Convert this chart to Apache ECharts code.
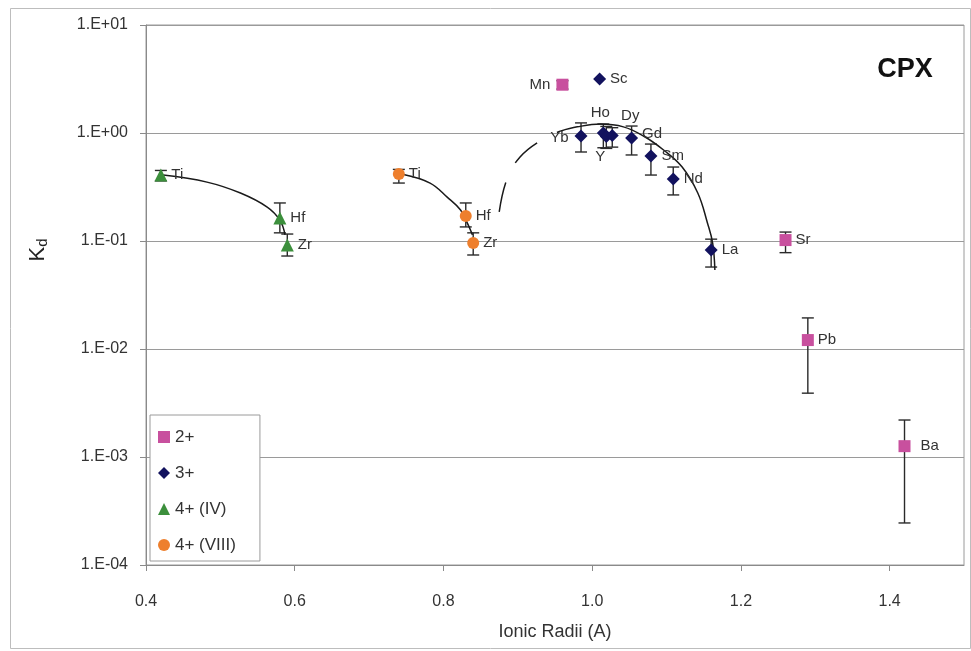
<!DOCTYPE html>
<html>
<head>
<meta charset="utf-8">
<script src="https://cdn.jsdelivr.net/npm/echarts@6/dist/echarts.min.js"></script>
<style>html,body{margin:0;padding:0;background:#fff}#c{width:971px;height:651px}</style>
</head>
<body>
<div id="c"></div>
<script>
// ---- data ----
const xTicks = [0.4, 0.6, 0.8, 1.0, 1.2, 1.4];

const names2 = ['Mn', 'Sr', 'Pb', 'Ba'];
const radii2 = [0.96, 1.26, 1.29, 1.42];
const kd2 = [2.8, 0.102, 0.0121, 0.00126];
const lo2 = [2.55, 0.078, 0.0039, 0.000245];
const hi2 = [3.05, 0.121, 0.0194, 0.0022];

const names3 = ['Sc', 'Yb', 'Ho', 'Y', 'Dy', 'Gd', 'Sm', 'Nd', 'La'];
const radii3 = [1.01, 0.985, 1.015, 1.019, 1.027, 1.053, 1.079, 1.109, 1.16];
const kd3 = [3.16, 0.94, 1.0, 0.93, 0.95, 0.90, 0.613, 0.375, 0.0826];
const lo3 = [null, 0.667, 0.73, 0.72, 0.74, 0.626, 0.408, 0.267, 0.0574];
const hi3 = [null, 1.24, 1.21, 1.15, 1.12, 1.16, 0.79, 0.484, 0.104];

const namesIV = ['Ti', 'Hf', 'Zr'];
const radiiIV = [0.42, 0.58, 0.59];
const kdIV = [0.408, 0.163, 0.092];
const loIV = [0.36, 0.119, 0.0726];
const hiIV = [0.45, 0.225, 0.116];

const namesVIII = ['Ti', 'Hf', 'Zr'];
const radiiVIII = [0.74, 0.83, 0.84];
const kdVIII = [0.417, 0.17, 0.096];
const loVIII = [0.344, 0.135, 0.0742];
const hiVIII = [0.46, 0.225, 0.119];

// fitted lattice-strain curves
const fitIVx = [0.423, 0.482, 0.527, 0.563, 0.580, 0.587];
const fitIVy = [0.408, 0.351, 0.278, 0.206, 0.156, 0.114];
const fitVIIIx = [0.745, 0.782, 0.805, 0.823, 0.832, 0.839];
const fitVIIIy = [0.415, 0.344, 0.255, 0.194, 0.147, 0.114];
const fit3DashX = [0.875, 0.885, 0.903, 0.932, 0.957];
const fit3DashY = [0.186, 0.367, 0.600, 0.862, 1.04];
const fit3x = [0.957, 0.980, 1.011, 1.042, 1.069, 1.096, 1.121, 1.142, 1.155, 1.162, 1.165];
const fit3y = [1.04, 1.14, 1.21, 1.14, 0.938, 0.696, 0.484, 0.278, 0.147, 0.0958, 0.0539];

const seriesNames = ['2+', '3+', '4+ (IV)', '4+ (VIII)'];

// ---- styles ----
const FONT = 'Liberation Sans, Arial, sans-serif';
const colors = ['#C8509E', '#12125E', '#3C8F3C', '#EE7F2D'];
const labelStyle = {
  Mn: { position: 'left', offset: [-2, 0] },
  Yb: { position: 'left', offset: [-2, 2] },
  Ho: { position: 'top', offset: [-3, -2] },
  Y: { position: 'bottom', offset: [-6, 2] },
  Dy: { position: 'top', offset: [18, -2] },
  Gd: { position: 'right', offset: [0, -4] },
  Ba: { position: 'right', offset: [6, 0] }
};

function pts(xs, ys) { return xs.map((x, i) => [x, ys[i]]); }
function scatterData(names, xs, ys) {
  return xs.map((x, i) => {
    const ls = labelStyle[names[i]] || { position: 'right', offset: [0, 0] };
    return { value: [x, ys[i]], name: names[i], label: { position: ls.position, offset: ls.offset } };
  });
}
function errData(xs, lo, hi) {
  const out = [];
  xs.forEach((x, i) => { if (lo[i] != null) out.push([x, lo[i], hi[i]]); });
  return out;
}
function errSeries(xs, lo, hi) {
  return {
    type: 'custom', z: 3, silent: true,
    data: errData(xs, lo, hi),
    encode: { x: 0, y: [1, 2] },
    renderItem: function (params, api) {
      const x = api.value(0);
      const a = api.coord([x, api.value(2)]);
      const b = api.coord([x, api.value(1)]);
      const w = 6;
      const st = { stroke: '#2a2a2a', lineWidth: 1.4 };
      return {
        type: 'group',
        children: [
          { type: 'line', shape: { x1: a[0], y1: a[1], x2: b[0], y2: b[1] }, style: st },
          { type: 'line', shape: { x1: a[0] - w, y1: a[1], x2: a[0] + w, y2: a[1] }, style: st },
          { type: 'line', shape: { x1: b[0] - w, y1: b[1], x2: b[0] + w, y2: b[1] }, style: st }
        ]
      };
    }
  };
}
function scatter(name, names, xs, ys, symbol, size, color) {
  return {
    name: name, type: 'scatter', z: 5, symbol: symbol, symbolSize: size,
    itemStyle: { color: color, opacity: 1 },
    label: { show: true, formatter: '{b}', color: '#333', fontFamily: FONT, fontSize: 15, distance: 4 },
    data: scatterData(names, xs, ys)
  };
}
function curve(xs, ys, dash) {
  return {
    type: 'line', z: 4, silent: true, smooth: 0.4, symbol: 'none',
    lineStyle: { color: '#1a1a1a', width: 1.5, type: dash ? [30, 22] : 'solid' },
    data: pts(xs, ys)
  };
}
function expLabel(v) {
  const e = Math.round(Math.log10(v));
  const s = e >= 0 ? '+' : '-';
  const a = Math.abs(e);
  return '1.E' + s + (a < 10 ? '0' + a : a);
}

const chart = echarts.init(document.getElementById('c'), null, { renderer: 'canvas' });
chart.setOption({
  backgroundColor: '#fff',
  animation: false,
  textStyle: { fontFamily: FONT },
  grid: { left: 146, right: 7, top: 25, bottom: 86, show: true, borderColor: '#9a9a9a', borderWidth: 1 },
  xAxis: {
    type: 'value', min: 0.4, max: 1.5, interval: 0.2,
    name: 'Ionic Radii (A)', nameLocation: 'middle', nameGap: 58,
    nameTextStyle: { fontFamily: FONT, fontSize: 18, color: '#333' },
    axisLine: { show: true, lineStyle: { color: '#8a8a8a' } },
    axisTick: { show: true, length: 6, lineStyle: { color: '#8a8a8a' }, customValues: xTicks },
    axisLabel: { fontFamily: FONT, fontSize: 16, color: '#333', margin: 29, customValues: xTicks,
      formatter: v => v.toFixed(1) },
    splitLine: { show: false }
  },
  yAxis: {
    type: 'log', logBase: 10, min: 1e-4, max: 10,
    axisLine: { show: true, lineStyle: { color: '#8a8a8a' } },
    axisTick: { show: true, length: 6, lineStyle: { color: '#8a8a8a' } },
    axisLabel: { fontFamily: FONT, fontSize: 16, color: '#333', margin: 18, formatter: expLabel },
    splitLine: { show: true, lineStyle: { color: '#9a9a9a', width: 1 } }
  },
  legend: {
    data: seriesNames, orient: 'vertical', left: 150, top: 415,
    backgroundColor: '#fff', borderColor: '#9a9a9a', borderWidth: 1,
    padding: [12, 24, 6, 8], itemGap: 16, itemWidth: 12, itemHeight: 12,
    textStyle: { fontFamily: FONT, fontSize: 17, color: '#333', lineHeight: 20 }
  },
  graphic: [
    { type: 'rect', left: 8, top: 6, shape: { width: 960, height: 640 }, style: { fill: 'none', stroke: '#bdbdbd', lineWidth: 1 }, z: -1 },
    { type: 'text', x: 905, y: 70, style: { text: 'CPX', font: 'bold 27px ' + FONT, fill: '#111', textAlign: 'center', textVerticalAlign: 'middle' } },
    { type: 'text', x: 38, y: 250, rotation: Math.PI / 2,
      style: { text: '{k|K}{d|d}', textAlign: 'center', textVerticalAlign: 'middle',
        rich: { k: { fontFamily: FONT, fontSize: 22, fill: '#222', color: '#222' },
                d: { fontFamily: FONT, fontSize: 15, fill: '#222', color: '#222', padding: [9, 0, 0, 0] } } } }
  ],
  series: [
    errSeries(radii2, lo2, hi2),
    errSeries(radii3, lo3, hi3),
    errSeries(radiiIV, loIV, hiIV),
    errSeries(radiiVIII, loVIII, hiVIII),
    curve(fitIVx, fitIVy, false),
    curve(fitVIIIx, fitVIIIy, false),
    curve(fit3DashX, fit3DashY, true),
    curve(fit3x, fit3y, false),
    scatter(seriesNames[0], names2, radii2, kd2, 'rect', 12, colors[0]),
    scatter(seriesNames[1], names3, radii3, kd3, 'diamond', 13, colors[1]),
    scatter(seriesNames[2], namesIV, radiiIV, kdIV, 'triangle', 13, colors[2]),
    scatter(seriesNames[3], namesVIII, radiiVIII, kdVIII, 'circle', 12, colors[3])
  ]
});
</script>
</body>
</html>
